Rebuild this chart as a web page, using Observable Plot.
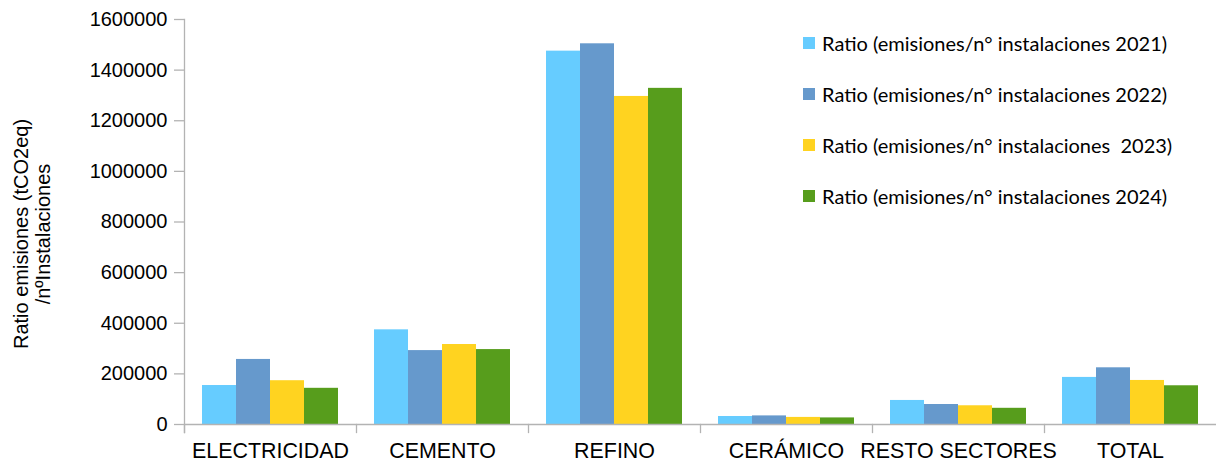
<!DOCTYPE html>
<html><head><meta charset="utf-8">
<script src="https://cdn.jsdelivr.net/npm/d3@7"></script>
<script src="https://cdn.jsdelivr.net/npm/@observablehq/plot@0.6"></script>
<style>
body{margin:0;background:#fff;}
#wrap{position:relative;width:1216px;height:464px;overflow:hidden;}
#legend{position:absolute;left:803px;top:17px;font-family:Lato,"Open Sans",sans-serif;font-size:20px;color:#000;}
.item{display:flex;align-items:center;height:51px;white-space:pre;}
.sw{width:12px;height:12px;margin-right:7px;flex:none;}
</style></head><body><div id="wrap"></div>
<script>
const sectores = ["ELECTRICIDAD","CEMENTO","REFINO","CERÁMICO","RESTO SECTORES","TOTAL"];
const anios = ["2021","2022","2023","2024"];
const series = [
  "Ratio (emisiones/n° instalaciones 2021)",
  "Ratio (emisiones/n° instalaciones 2022)",
  "Ratio (emisiones/n° instalaciones  2023)",
  "Ratio (emisiones/n° instalaciones 2024)"
];
const ratio2021 = [154000, 374000, 1475000, 31600, 95000, 186000];
const ratio2022 = [257000, 292000, 1504000, 34000, 79000, 224000];
const ratio2023 = [173000, 316000, 1296000, 28000, 74000, 174000];
const ratio2024 = [143000, 296000, 1328000, 26000, 64000, 153000];
const colores = ["#66ccff","#6699cc","#ffd320","#579d1c"];
const yTicks = [0,200000,400000,600000,800000,1000000,1200000,1400000,1600000];
const yTitulo = "Ratio emisiones (tCO2eq)\n/nºInstalaciones";

const valores = [ratio2021, ratio2022, ratio2023, ratio2024];
const data = sectores.flatMap((s, i) => valores.map((arr, j) => ({sector: s, anio: anios[j], valor: arr[i]})));

const chart = Plot.plot({
  width: 1216, height: 464,
  marginLeft: 183, marginRight: 0, marginTop: 19, marginBottom: 40,
  style: {fontFamily: "'Liberation Sans', Arial, sans-serif", fontSize: "20px", color: "#000", background: "#fff"},
  fx: {domain: sectores, padding: 0, axis: null, label: null},
  x: {domain: anios, paddingInner: 0, paddingOuter: 0.5, axis: null},
  y: {domain: [0, 1600000], axis: null},
  color: {domain: anios, range: colores},
  marks: [
    Plot.barY(data, {fx: "sector", x: "anio", y: "valor", fill: "anio"}),
    Plot.ruleY([0], {stroke: "#b3b3b3", strokeWidth: 1.3}),
    Plot.frame({anchor: "left", stroke: "#b3b3b3", strokeWidth: 1.3, insetTop: 405, insetBottom: -8}),
    Plot.frame({anchor: "left", stroke: "#b3b3b3", strokeWidth: 1.3, insetBottom: -8, facetAnchor: "left"}),
    Plot.axisY({ticks: yTicks, tickSize: 10, tickPadding: 7, tickFormat: d3.format("d"), stroke: "#b3b3b3", strokeWidth: 1.3, fill: "#000", fontSize: 20, label: null}),
    Plot.axisFx({anchor: "bottom", tickSize: 0, tickPadding: 18, fontSize: 21.4, fill: "#000", label: null}),
    Plot.text([yTitulo], {frameAnchor: "left", textAnchor: "middle", lineAnchor: "middle", rotate: -90, dx: -153, dy: 12, fontSize: 20, lineHeight: 1.1, fill: "#000", facetAnchor: "left"})
  ]
});
const wrap = document.getElementById("wrap");
wrap.appendChild(chart);
const legend = document.createElement("div");
legend.id = "legend";
series.forEach((s, i) => {
  const it = document.createElement("div");
  it.className = "item";
  const sw = document.createElement("span");
  sw.className = "sw";
  sw.style.background = colores[i];
  const t = document.createElement("span");
  t.textContent = s;
  it.appendChild(sw); it.appendChild(t);
  legend.appendChild(it);
});
wrap.appendChild(legend);
</script></body></html>
